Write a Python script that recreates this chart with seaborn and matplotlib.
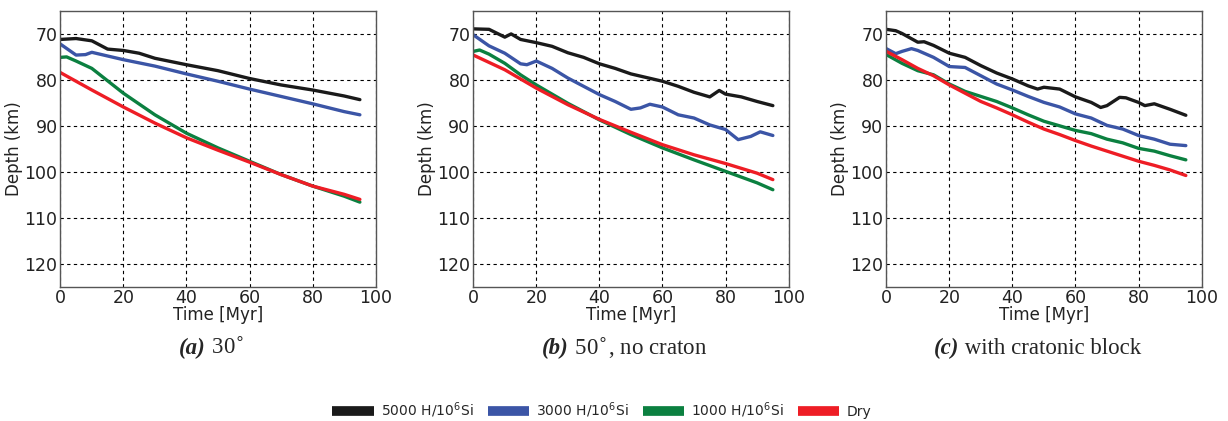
import matplotlib
matplotlib.use("Agg")
import matplotlib.pyplot as plt
import seaborn as sns
import pandas as pd
from matplotlib.lines import Line2D

sns.set_theme(style="white")
plt.rcParams['font.family'] = ['DejaVu Sans']

series_names = ["5000 H/10$^6$Si", "3000 H/10$^6$Si", "1000 H/10$^6$Si", "Dry"]
colors = ["#1a1a1a", "#3b55a6", "#0b8040", "#ee1d25"]

# Panel (a) 30 deg
a_black_t = [0, 5, 10, 15, 20, 25, 30, 40, 50, 60, 70, 80, 90, 95]
a_black_d = [71.2, 71.0, 71.5, 73.3, 73.6, 74.2, 75.3, 76.7, 78.0, 79.7, 81.1, 82.2, 83.5, 84.3]
a_blue_t = [0, 5, 8, 10, 15, 20, 30, 40, 50, 60, 70, 80, 90, 95]
a_blue_d = [72.2, 74.6, 74.5, 74.0, 74.8, 75.6, 77.0, 78.7, 80.3, 82.0, 83.6, 85.2, 86.9, 87.6]
a_green_t = [0, 2, 5, 10, 20, 30, 40, 50, 60, 70, 80, 90, 95]
a_green_d = [75.1, 75.0, 75.9, 77.5, 82.9, 87.6, 91.6, 94.8, 97.7, 100.6, 103.1, 105.3, 106.6]
a_red_t = [0, 10, 20, 30, 40, 50, 60, 70, 80, 90, 95]
a_red_d = [78.4, 82.2, 85.9, 89.4, 92.6, 95.3, 97.9, 100.6, 103.1, 104.9, 106.0]

# Panel (b) 50 deg, no craton
b_black_t = [0, 5, 10, 12, 15, 20, 25, 30, 35, 40, 45, 50, 55, 60, 65, 70, 75, 78, 80, 85, 90, 95]
b_black_d = [68.9, 69.0, 70.7, 70.0, 71.2, 71.9, 72.7, 74.1, 75.1, 76.5, 77.5, 78.7, 79.5, 80.3, 81.4, 82.7, 83.7, 82.3, 83.1, 83.7, 84.7, 85.6]
b_blue_t = [0, 5, 10, 15, 17, 20, 25, 30, 35, 40, 45, 50, 53, 56, 60, 65, 70, 75, 80, 84, 88, 91, 95]
b_blue_d = [70.2, 72.6, 74.2, 76.5, 76.7, 75.9, 77.5, 79.6, 81.4, 83.2, 84.7, 86.4, 86.1, 85.3, 85.9, 87.6, 88.3, 89.8, 90.8, 93.0, 92.3, 91.3, 92.1]
b_green_t = [0, 2, 5, 10, 15, 20, 30, 40, 50, 60, 70, 80, 90, 95]
b_green_d = [73.8, 73.5, 74.4, 76.4, 78.9, 81.1, 85.1, 88.7, 91.9, 94.8, 97.4, 99.9, 102.4, 103.9]
b_red_t = [0, 10, 20, 30, 40, 50, 60, 70, 80, 90, 95]
b_red_d = [74.6, 77.8, 81.8, 85.4, 88.6, 91.4, 94.1, 96.3, 98.2, 100.3, 101.7]

# Panel (c) with cratonic block
c_black_t = [0, 3, 5, 10, 12, 15, 20, 25, 30, 35, 40, 45, 48, 50, 55, 60, 65, 68, 70, 72, 74, 76, 80, 82, 85, 90, 95]
c_black_d = [69.0, 69.3, 69.9, 71.8, 71.7, 72.5, 74.2, 75.1, 76.9, 78.5, 79.8, 81.3, 82.0, 81.6, 82.0, 83.7, 84.9, 86.0, 85.6, 84.7, 83.8, 83.9, 84.9, 85.6, 85.2, 86.4, 87.7]
c_blue_t = [0, 3, 5, 8, 10, 15, 20, 25, 30, 35, 40, 45, 50, 55, 60, 65, 70, 75, 80, 85, 90, 95]
c_blue_d = [73.2, 74.3, 73.8, 73.2, 73.6, 75.1, 77.1, 77.3, 79.1, 80.9, 82.2, 83.6, 84.9, 85.9, 87.4, 88.3, 89.9, 90.7, 92.1, 92.9, 94.0, 94.3]
c_green_t = [0, 5, 10, 15, 20, 25, 30, 35, 40, 45, 50, 55, 60, 65, 70, 75, 80, 85, 90, 95]
c_green_d = [74.5, 76.4, 78.0, 78.9, 80.9, 82.5, 83.6, 84.7, 86.1, 87.6, 89.0, 90.0, 91.0, 91.7, 92.9, 93.7, 94.9, 95.5, 96.5, 97.4]
c_red_t = [0, 5, 10, 15, 20, 25, 30, 35, 40, 45, 50, 55, 60, 65, 70, 75, 80, 85, 90, 95]
c_red_d = [73.8, 75.6, 77.5, 79.1, 81.1, 82.9, 84.7, 86.1, 87.6, 89.2, 90.7, 91.9, 93.2, 94.4, 95.5, 96.6, 97.7, 98.6, 99.6, 100.8]

panels = [
    ("(a)", " 30$^{\\circ}$", [(a_black_t, a_black_d), (a_blue_t, a_blue_d), (a_green_t, a_green_d), (a_red_t, a_red_d)]),
    ("(b)", " 50$^{\\circ}$, no craton", [(b_black_t, b_black_d), (b_blue_t, b_blue_d), (b_green_t, b_green_d), (b_red_t, b_red_d)]),
    ("(c)", " with cratonic block", [(c_black_t, c_black_d), (c_blue_t, c_blue_d), (c_green_t, c_green_d), (c_red_t, c_red_d)]),
]

x_ticks = [0, 20, 40, 60, 80, 100]
y_ticks = [70, 80, 90, 100, 110, 120]

fig = plt.figure(figsize=(12.28, 4.21), dpi=100)
lefts = [0.0491, 0.3854, 0.7217]
W, B, H = 0.2568, 0.319, 0.655

captions = []
for (tag, rest, data), left in zip(panels, lefts):
    ax = fig.add_axes([left, B, W, H])
    for (t, d), name, col in zip(data, series_names, colors):
        df = pd.DataFrame({"Time": t, "Depth": d})
        sns.lineplot(data=df, x="Time", y="Depth", ax=ax, color=col, lw=2.4, legend=False)
    ax.set_xlim(0, 100)
    ax.set_ylim(125, 65)
    ax.set_xticks(x_ticks)
    ax.set_yticks(y_ticks)
    ax.grid(True, color="black", linestyle=(0, (3, 3)), linewidth=0.8)
    ax.tick_params(length=0, labelsize=12.5, pad=2, colors="#222222")
    for s in ax.spines.values():
        s.set_color("#555555")
        s.set_linewidth(1.0)
    ax.set_xlabel("Time [Myr]", fontsize=12, labelpad=-1, color="#222222")
    ax.set_ylabel("Depth (km)", fontsize=12, labelpad=1, color="#222222")
    cx = left + W / 2 - 0.005
    t1 = fig.text(cx, 0.173, tag, fontsize=16.5, family="Liberation Serif",
                  fontweight="bold", fontstyle="italic", ha="left", va="center")
    t2 = fig.text(cx, 0.173, rest, fontsize=16.5, family="Liberation Serif", ha="left", va="center")
    captions.append((cx, t1, t2))

# center each two-part caption under its panel
fig.canvas.draw()
r = fig.canvas.get_renderer()
fw = fig.bbox.width
for cx, t1, t2 in captions:
    w1 = t1.get_window_extent(r).width / fw
    w2 = t2.get_window_extent(r).width / fw
    start = cx - (w1 + w2) / 2
    t1.set_x(start)
    t2.set_x(start + w1)

handles = [Line2D([0], [0], color=c, lw=7, solid_capstyle="butt") for c in colors]
fig.legend(handles, series_names, loc="center", bbox_to_anchor=(0.49, 0.025),
           ncol=4, frameon=False, fontsize=10, handlelength=3.0, columnspacing=1.0,
           handletextpad=0.5)

fig.savefig("out.png", dpi=100)
